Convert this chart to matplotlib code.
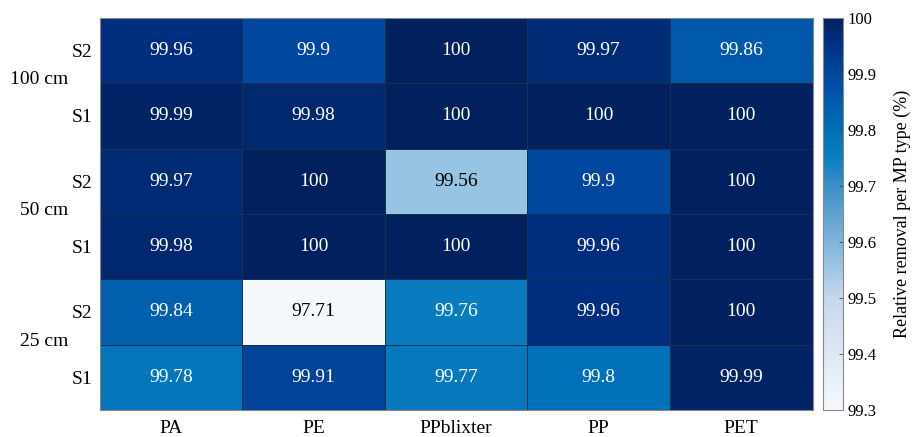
import numpy as np
import matplotlib.pyplot as plt
from matplotlib.colors import Normalize, LinearSegmentedColormap

plt.rcParams['font.family'] = ['Liberation Serif', 'DejaVu Serif']

# data: rows top to bottom
materials = ['PA', 'PE', 'PPblixter', 'PP', 'PET']
row_labels = ['S2', 'S1', 'S2', 'S1', 'S2', 'S1']
depths = ['100 cm', '50 cm', '25 cm']
removal = np.array([
    [99.96, 99.90, 100, 99.97, 99.86],
    [99.99, 99.98, 100, 100, 100],
    [99.97, 100, 99.56, 99.90, 100],
    [99.98, 100, 100, 99.96, 100],
    [99.84, 97.71, 99.76, 99.96, 100],
    [99.78, 99.91, 99.77, 99.80, 99.99],
])
cell_text = [
    ['99.96', '99.9', '100', '99.97', '99.86'],
    ['99.99', '99.98', '100', '100', '100'],
    ['99.97', '100', '99.56', '99.9', '100'],
    ['99.98', '100', '100', '99.96', '100'],
    ['99.84', '97.71', '99.76', '99.96', '100'],
    ['99.78', '99.91', '99.77', '99.8', '99.99'],
]

# colour scale roughly as in the original figure
cmap = LinearSegmentedColormap.from_list('blues_custom', [
    (0.0, '#f5f9fe'),
    (0.2857, '#c6d7ec'),
    (0.371, '#98c4e2'),
    (0.5714, '#3d8fc6'),
    (0.643, '#0a7fc0'),
    (0.714, '#0070b8'),
    (0.857, '#0048a0'),
    (0.943, '#002f80'),
    (1.0, '#00215e'),
])

fig = plt.figure(figsize=(9.14, 4.37), dpi=100)
ax = fig.add_axes([0.109, 0.062, 0.78, 0.897])
cax = fig.add_axes([0.9, 0.062, 0.022, 0.897])

norm = Normalize(vmin=99.3, vmax=100, clip=True)
mesh = ax.pcolormesh(removal, cmap=cmap, norm=norm,
                     edgecolors='#1a3050', linewidth=0.6)
ax.set_xlim(0, 5)
ax.set_ylim(6, 0)

for i in range(removal.shape[0]):
    for j in range(removal.shape[1]):
        v = removal[i, j]
        c = 'black' if v < 99.65 else 'white'
        ax.text(j + 0.5, i + 0.5, cell_text[i][j], ha='center', va='center',
                color=c, fontsize=14)

ax.set_xticks(np.arange(5) + 0.5)
ax.set_xticklabels(materials, fontsize=14)
ax.set_yticks(np.arange(6) + 0.5)
ax.set_yticklabels(row_labels, fontsize=14)
ax.tick_params(axis='y', length=0, pad=5)
ax.tick_params(axis='x', length=0, pad=7)
for s in ax.spines.values():
    s.set_color('#888888')
    s.set_linewidth(0.8)

for k, d in enumerate(depths):
    ax.text(-0.22, 2 * k + 0.95, d, ha='right', va='center', fontsize=14)

cb = fig.colorbar(mesh, cax=cax)
cb.set_ticks(np.round(np.arange(99.3, 100.01, 0.1), 1))
cb.set_ticklabels(['99.3', '99.4', '99.5', '99.6', '99.7', '99.8', '99.9', '100'])
cb.ax.tick_params(labelsize=12, length=3, width=0.6, color='#444444', direction='in')
cb.outline.set_edgecolor('#888888')
cb.outline.set_linewidth(0.8)
cb.set_label('Relative removal per MP type (%)', fontsize=13, labelpad=12)

fig.savefig('out.png', dpi=100)
